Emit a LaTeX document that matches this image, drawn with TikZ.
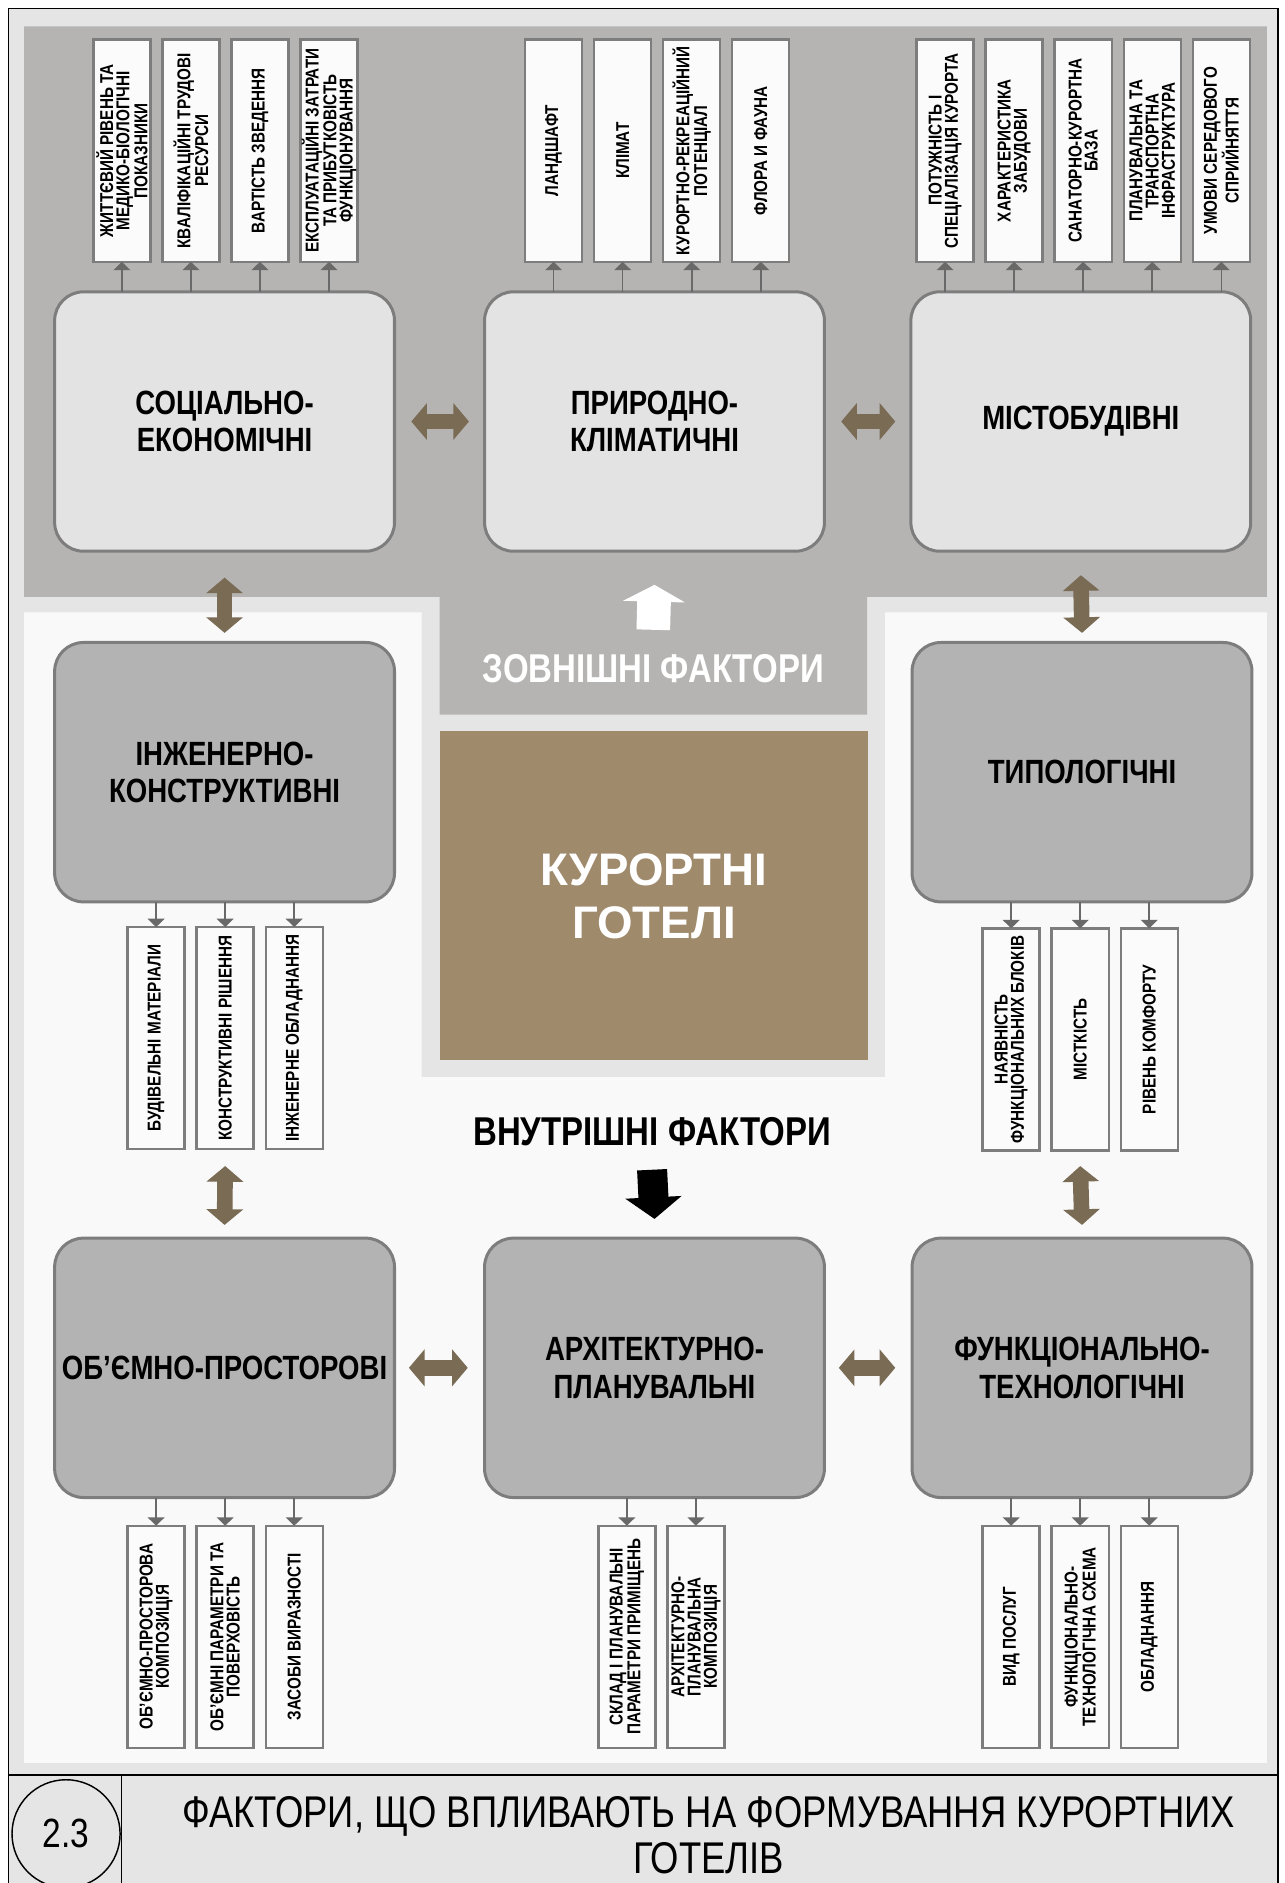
\documentclass[tikz,border=0pt]{standalone}
\usepackage{fontspec}
\usepackage{graphicx}
\usepackage{tikz}
\usetikzlibrary{arrows.meta, positioning}
\newfontfamily\narrowsf[FakeStretch=0.82]{Liberation Sans}
\newfontfamily\plainsf{Liberation Sans}
\definecolor{framebg}{RGB}{228,229,228}
\definecolor{outergrey}{RGB}{181,180,178}
\definecolor{panelwhite}{RGB}{249,249,249}
\definecolor{itemwhite}{RGB}{251,251,251}
\definecolor{lightbox}{RGB}{227,227,227}
\definecolor{darkbox}{RGB}{179,179,179}
\definecolor{boxline}{RGB}{125,125,125}
\definecolor{hotelbrown}{RGB}{159,138,108}
\definecolor{linkbrown}{RGB}{122,107,85}
\definecolor{tipgrey}{RGB}{105,105,105}
\newcommand{\uptext}[1]{\rotatebox{90}{\vbox{\let\\\cr\halign{\hfil##\hfil\cr#1\crcr}}}}

\begin{document}
\begin{tikzpicture}[x=1pt, y=-1pt,
        itembox/.style={rectangle, draw=boxline, line width=2pt, fill=itemwhite,
                    minimum width=47.5pt, minimum height=185pt, inner sep=0.5pt, outer sep=0pt,
                    font=\narrowsf\bfseries\fontsize{15.5}{13.5}\selectfont},
        factorbox/.style={rectangle, draw=boxline, line width=2.5pt, rounded corners=24pt,
                    minimum width=283pt, minimum height=216pt, outer sep=0pt, align=center,
                    font=\narrowsf\bfseries\fontsize{28}{31}\selectfont},
        extbox/.style={factorbox, fill=lightbox},
        intbox/.style={factorbox, fill=darkbox},
        hotel/.style={rectangle, fill=hotelbrown, minimum width=357pt, minimum height=274pt,
                    align=center, text=white, font=\plainsf\bfseries\fontsize{38}{44}\selectfont},
        heading/.style={inner sep=0pt, font=\narrowsf\bfseries\fontsize{33.5}{36}\selectfont},
        bothway/.style={draw=linkbrown, line width=13pt,
                    {Triangle[width=30pt,length=13pt]}-{Triangle[width=30pt,length=13pt]}},
        sublink/.style={draw=tipgrey, line width=1.3pt, -{Triangle[width=14pt,length=7pt]}},
        pointer/.style={line width=28pt, -{Triangle[width=51pt,length=14pt]}}
      ]
        \useasboundingbox (0,0) rectangle (1070,1568);
        \clip (0,0) rectangle (1070,1568);
        \fill[white] (0,0) rectangle (1070,1568);
        \fill[framebg] (7,7) rectangle (1064,1580);
        \fill[outergrey] (20,22) -- (1055,22) -- (1055,497) -- (722,497) -- (722,595)
          -- (366,595) -- (366,497) -- (20,497) -- cycle;
        \fill[panelwhite] (20,510) -- (351,510) -- (351,897) -- (737,897) -- (737,510)
          -- (1055,510) -- (1055,1468) -- (20,1468) -- cycle;
        \draw[line width=1.5pt] (7,1580) -- (7,7) -- (1064,7) -- (1064,1580);
        \draw[line width=1.2pt] (7,1478) -- (1064,1478);
        \draw[line width=1.2pt] (101,1478) -- (101,1580);

        \node[hotel] (hotel) at (544.5,746) {КУРОРТНІ\\ГОТЕЛІ};
        \node[heading, text=white] (ext) at (544,556.5) {ЗОВНІШНІ ФАКТОРИ};
        \node[heading] (int) at (543,942) {ВНУТРІШНІ ФАКТОРИ};
        \coordinate (extup) at (545,487);
        \coordinate (intdown) at (545,1015);
        \draw[pointer, white] ([yshift=20pt]ext.north) -- (extup);
        \draw[pointer, black, line width=25pt, -{Triangle[width=46pt,length=18pt]}]
          ([yshift=-20pt]int.south) -- (intdown);

        \node[extbox] (soc) at (187,351) {СОЦІАЛЬНО-\\ЕКОНОМІЧНІ};
        \node[extbox] (nat) at (545,351) {ПРИРОДНО-\\КЛІМАТИЧНІ};
        \node[extbox] (urb) at (900,351) {МІСТОБУДІВНІ};
        \node[intbox] (inzh) at (187,643) {ІНЖЕНЕРНО-\\КОНСТРУКТИВНІ};
        \node[intbox] (typ) at (901,643) {ТИПОЛОГІЧНІ};
        \node[intbox] (vol) at (187,1139) {ОБ’ЄМНО-ПРОСТОРОВІ};
        \node[intbox] (arch) at (545,1139) {АРХІТЕКТУРНО-\\ПЛАНУВАЛЬНІ};
        \node[intbox] (fun) at (901,1139) {ФУНКЦІОНАЛЬНО-\\ТЕХНОЛОГІЧНІ};

        \node[itembox] (se1) at (101.5,125.5) {\uptext{ЖИТТЄВИЙ РІВЕНЬ ТА\\МЕДИКО-БІОЛОГІЧНІ\\ПОКАЗНИКИ}};
        \node[itembox, right=10pt of se1] (se2) {\uptext{КВАЛІФІКАЦІЙНІ ТРУДОВІ\\РЕСУРСИ}};
        \node[itembox, right=10pt of se2] (se3) {\uptext{ВАРТІСТЬ ЗВЕДЕННЯ}};
        \node[itembox, right=10pt of se3] (se4) {\uptext{ЕКСПЛУАТАЦІЙНІ ЗАТРАТИ\\ТА ПРИБУТКОВІСТЬ\\ФУНКЦІОНУВАННЯ}};

        \node[itembox] (nc1) at (461,125.5) {\uptext{ЛАНДШАФТ}};
        \node[itembox, right=10pt of nc1] (nc2) {\uptext{КЛІМАТ}};
        \node[itembox, right=10pt of nc2] (nc3) {\uptext{КУРОРТНО-РЕКРЕАЦІЙНИЙ\\ПОТЕНЦІАЛ}};
        \node[itembox, right=10pt of nc3] (nc4) {\uptext{ФЛОРА И ФАУНА}};

        \node[itembox] (ub1) at (787,125.5) {\uptext{ПОТУЖНІСТЬ І\\СПЕЦІАЛІЗАЦІЯ КУРОРТА}};
        \node[itembox, right=10pt of ub1] (ub2) {\uptext{ХАРАКТЕРИСТИКА\\ЗАБУДОВИ}};
        \node[itembox, right=10pt of ub2] (ub3) {\uptext{САНАТОРНО-КУРОРТНА\\БАЗА}};
        \node[itembox, right=10pt of ub3] (ub4) {\uptext{ПЛАНУВАЛЬНА ТА\\ТРАНСПОРТНА\\ІНФРАСТРУКТУРА}};
        \node[itembox, right=10pt of ub4] (ub5) {\uptext{УМОВИ СЕРЕДОВОГО\\СПРИЙНЯТТЯ}};

        \node[itembox] (ie1) at (130,864.5) {\uptext{БУДІВЕЛЬНІ МАТЕРІАЛИ}};
        \node[itembox, right=10pt of ie1] (ie2) {\uptext{КОНСТРУКТИВНІ РІШЕННЯ}};
        \node[itembox, right=10pt of ie2] (ie3) {\uptext{ІНЖЕНЕРНЕ ОБЛАДНАННЯ}};

        \node[itembox] (tp1) at (842,865.5) {\uptext{НАЯВНІСТЬ\\ФУНКЦІОНАЛЬНИХ БЛОКІВ}};
        \node[itembox, right=10pt of tp1] (tp2) {\uptext{МІСТКІСТЬ}};
        \node[itembox, right=10pt of tp2] (tp3) {\uptext{РІВЕНЬ КОМФОРТУ}};

        \node[itembox] (op1) at (130,1363) {\uptext{ОБ’ЄМНО-ПРОСТОРОВА\\КОМПОЗИЦІЯ}};
        \node[itembox, right=10pt of op1] (op2) {\uptext{ОБ’ЄМНІ ПАРАМЕТРИ ТА\\ПОВЕРХОВІСТЬ}};
        \node[itembox, right=10pt of op2] (op3) {\uptext{ЗАСОБИ ВИРАЗНОСТІ}};

        \node[itembox] (ap1) at (522,1363) {\uptext{СКЛАД І ПЛАНУВАЛЬНІ\\ПАРАМЕТРИ ПРИМІЩЕНЬ}};
        \node[itembox, right=10pt of ap1] (ap2) {\uptext{АРХІТЕКТУРНО-\\ПЛАНУВАЛЬНА\\КОМПОЗИЦІЯ}};

        \node[itembox] (ft1) at (842,1363) {\uptext{ВИД ПОСЛУГ}};
        \node[itembox, right=10pt of ft1] (ft2) {\uptext{ФУНКЦІОНАЛЬНО-\\ТЕХНОЛОГІЧНА СХЕМА}};
        \node[itembox, right=10pt of ft2] (ft3) {\uptext{ОБЛАДНАННЯ}};

        \draw[sublink] (se1.south |- soc.north) -- (se1.south);
        \draw[sublink] (se2.south |- soc.north) -- (se2.south);
        \draw[sublink] (se3.south |- soc.north) -- (se3.south);
        \draw[sublink] (se4.south |- soc.north) -- (se4.south);
        \draw[sublink] (nc1.south |- nat.north) -- (nc1.south);
        \draw[sublink] (nc2.south |- nat.north) -- (nc2.south);
        \draw[sublink] (nc3.south |- nat.north) -- (nc3.south);
        \draw[sublink] (nc4.south |- nat.north) -- (nc4.south);
        \draw[sublink] (ub1.south |- urb.north) -- (ub1.south);
        \draw[sublink] (ub2.south |- urb.north) -- (ub2.south);
        \draw[sublink] (ub3.south |- urb.north) -- (ub3.south);
        \draw[sublink] (ub4.south |- urb.north) -- (ub4.south);
        \draw[sublink] (ub5.south |- urb.north) -- (ub5.south);
        \draw[sublink] (ie1.north |- inzh.south) -- (ie1.north);
        \draw[sublink] (ie2.north |- inzh.south) -- (ie2.north);
        \draw[sublink] (ie3.north |- inzh.south) -- (ie3.north);
        \draw[sublink] (tp1.north |- typ.south) -- (tp1.north);
        \draw[sublink] (tp2.north |- typ.south) -- (tp2.north);
        \draw[sublink] (tp3.north |- typ.south) -- (tp3.north);
        \draw[sublink] (op1.north |- vol.south) -- (op1.north);
        \draw[sublink] (op2.north |- vol.south) -- (op2.north);
        \draw[sublink] (op3.north |- vol.south) -- (op3.north);
        \draw[sublink] (ap1.north |- arch.south) -- (ap1.north);
        \draw[sublink] (ap2.north |- arch.south) -- (ap2.north);
        \draw[sublink] (ft1.north |- fun.south) -- (ft1.north);
        \draw[sublink] (ft2.north |- fun.south) -- (ft2.north);
        \draw[sublink] (ft3.north |- fun.south) -- (ft3.north);

        \draw[bothway, shorten <=14pt, shorten >=13pt] (soc) -- (nat);
        \draw[bothway, shorten <=14pt, shorten >=13pt] (nat) -- (urb);
        \draw[bothway, shorten <=12pt, shorten >=14pt] (vol) -- (arch);
        \draw[bothway, shorten <=12pt, shorten >=14pt] (arch) -- (fun);
        \draw[bothway] ([yshift=-22pt]soc.south) -- ([yshift=8pt]inzh.north);
        \draw[bothway] ([yshift=-20pt]urb.south) -- ([yshift=8pt]typ.north);
        \draw[bothway] ([yshift=-14pt]ie2.south) -- ([yshift=11pt]vol.north);
        \draw[bothway] ([yshift=-13pt]tp2.south) -- ([yshift=11pt]fun.north);

        \node[draw, circle, line width=1.2pt, minimum size=90pt, inner sep=0pt,
              font=\narrowsf\fontsize{34}{36}\selectfont] (num) at (55,1527) {2.3};
        \node[align=center, font=\narrowsf\fontsize{37}{38}\selectfont] (title) at (590,1528)
          {ФАКТОРИ, ЩО ВПЛИВАЮТЬ НА ФОРМУВАННЯ КУРОРТНИХ\\ГОТЕЛІВ};
      \end{tikzpicture}
\end{document}
